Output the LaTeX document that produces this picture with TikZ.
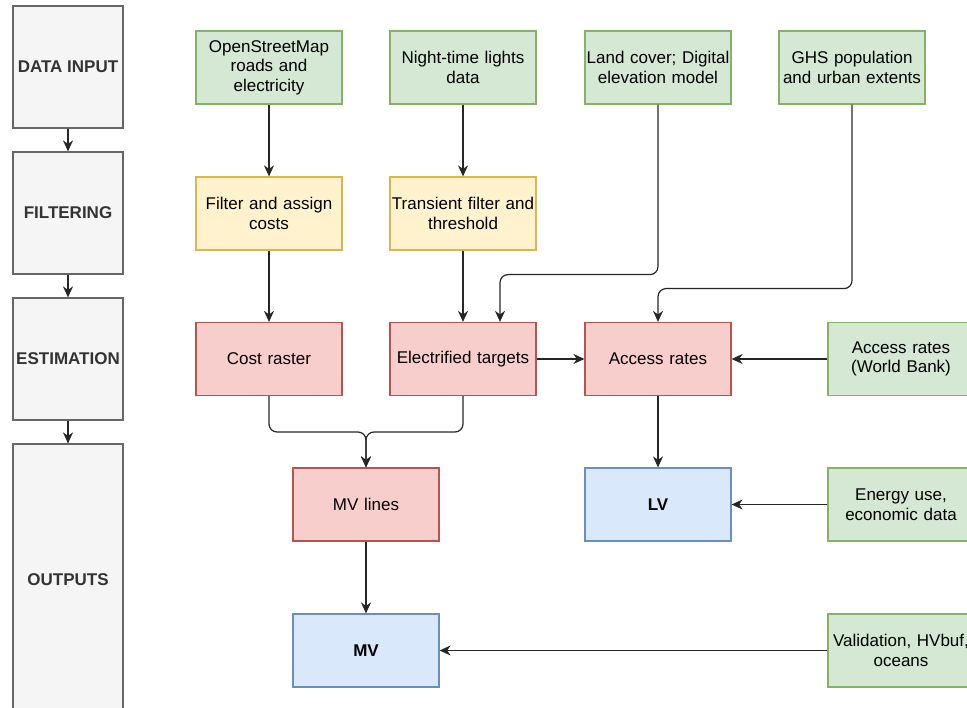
\documentclass[tikz,border=0pt]{standalone}
\usepackage{fontspec}
\setmainfont{Liberation Sans}
\usetikzlibrary{arrows.meta}
\definecolor{gfill}{HTML}{D5E8D4}\definecolor{gline}{HTML}{82B366}
\definecolor{yfill}{HTML}{FFF2CC}\definecolor{yline}{HTML}{D6B656}
\definecolor{rfill}{HTML}{F8CECC}\definecolor{rline}{HTML}{B85450}
\definecolor{bfill}{HTML}{DAE8FC}\definecolor{bline}{HTML}{6C8EBF}
\definecolor{sfill}{HTML}{F5F5F5}\definecolor{sline}{HTML}{666666}
\definecolor{stext}{HTML}{333333}
\begin{document}
\begin{tikzpicture}[x=1pt,y=-1pt,
  box/.style={draw, line width=1.2pt, minimum width=146pt, minimum height=73pt,
    inner sep=1pt, align=center, text width=144pt, font=\fontsize{17}{19.5}\selectfont},
  green/.style={box, fill=gfill, draw=gline},
  yellow/.style={box, fill=yfill, draw=yline},
  red/.style={box, fill=rfill, draw=rline},
  blue/.style={box, fill=bfill, draw=bline, font=\fontsize{17}{19.5}\selectfont\bfseries},
  stage/.style={draw=sline, fill=sfill, line width=1.2pt, minimum width=110pt, inner sep=0pt,
    text=stext, font=\fontsize{17}{19.5}\selectfont\bfseries},
  arr/.style={-{Stealth[length=11pt,width=10pt,inset=3.5pt]}, line width=1.2pt, draw=black!85, rounded corners=8pt}]
\useasboundingbox (0,0) rectangle (967,708);
\clip (0,0) rectangle (967,708);
% stages
\node[stage, minimum height=122pt] (din) at (68,67) {DATA INPUT};
\node[stage, minimum height=122pt] (filt) at (68,213) {FILTERING};
\node[stage, minimum height=122pt] (est) at (68,359) {ESTIMATION};
\node[stage, minimum height=272pt] (outp) at (68,580) {OUTPUTS};
\draw[arr] (din) -- (filt);
\draw[arr] (filt) -- (est);
\draw[arr] (est) -- (outp);
% inputs
\node[green] (osm) at (269,67.5) {OpenStreetMap\\roads and\\electricity};
\node[green] (ntl) at (463,67.5) {Night-time lights\\data};
\node[green] (lc) at (658,67.5) {Land cover; Digital\\elevation model};
\node[green] (ghs) at (852,67.5) {GHS population\\and urban extents};
% filtering
\node[yellow] (fac) at (269,213.5) {Filter and assign\\costs};
\node[yellow] (tft) at (463,213.5) {Transient filter and\\threshold};
% estimation
\node[red] (cr) at (269,359) {Cost raster};
\node[red] (et) at (463,359) {Electrified targets};
\node[red] (ar) at (658,359) {Access rates};
\node[green] (wb) at (901,359) {Access rates\\(World Bank)};
% outputs
\node[red] (mvl) at (366,504.5) {MV lines};
\node[blue] (lv) at (658,504.5) {LV};
\node[green] (eu) at (901,504.5) {Energy use,\\economic data};
\node[blue] (mv) at (366,650.5) {MV};
\node[green] (val) at (901,650.5) {Validation, HVbuf,\\oceans};
% connectors
\draw[arr] (osm) -- (fac);
\draw[arr] (ntl) -- (tft);
\draw[arr] (fac) -- (cr);
\draw[arr] (tft) -- (et);
\draw[arr] (lc.south) -- ++(0,170) -| ([xshift=37pt]et.north);
\draw[arr] (ghs.south) -- ++(0,184) -| (ar.north);
\draw[arr] (et.east) -- (ar.west);
\draw[arr] (wb.west) -- (ar.east);
\draw[arr] (cr.south) |- (366,432) -- (mvl.north);
\draw[arr] (et.south) |- (366,432) -- (mvl.north);
\draw[arr] (ar.south) -- (lv.north);
\draw[arr] (eu.west) -- (lv.east);
\draw[arr] (mvl.south) -- (mv.north);
\draw[arr] (val.west) -- (mv.east);
\end{tikzpicture}
\end{document}
